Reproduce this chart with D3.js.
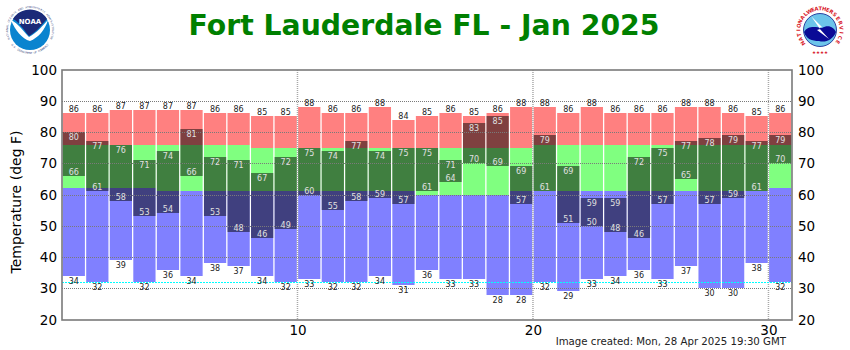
<!DOCTYPE html>
<html>
<head>
<meta charset="utf-8">
<script src="https://cdn.jsdelivr.net/npm/d3@7"></script>
<style>
    html, body { margin: 0; padding: 0; background: #fff; }
    svg { display: block; }
    text { font-family: "DejaVu Sans", sans-serif; }
</style>
</head>
<body>
<div id="chart-area"></div>
<script>
const days = d3.range(1, 32);
const recordHigh = [86, 86, 87, 87, 87, 87, 86, 86, 85, 85, 88, 86, 86, 88, 84, 85, 86, 85, 86, 88, 88, 86, 88, 86, 86, 86, 88, 88, 86, 85, 86];
const recordLow = [34, 32, 39, 32, 36, 34, 38, 37, 34, 32, 33, 32, 32, 34, 31, 36, 33, 33, 28, 28, 32, 29, 33, 34, 36, 33, 37, 30, 30, 38, 32];
const normalHigh = [76, 76, 76, 76, 76, 76, 76, 76, 75, 75, 75, 75, 75, 75, 75, 75, 75, 75, 75, 75, 76, 76, 76, 76, 76, 76, 76, 76, 76, 76, 76];
const normalLow = [62, 62, 62, 62, 61, 61, 61, 61, 61, 61, 61, 61, 61, 61, 61, 60, 60, 60, 60, 61, 61, 61, 61, 61, 61, 61, 61, 61, 61, 61, 62];
const obsHigh = [80, 77, 76, 71, 74, 81, 72, 71, 67, 72, 75, 74, 77, 74, 75, 75, 71, 83, 85, 69, 79, 69, 59, 59, 72, 75, 77, 78, 79, 77, 79];
const obsLow = [66, 61, 58, 53, 54, 66, 53, 48, 46, 49, 60, 55, 58, 59, 57, 61, 64, 70, 69, 57, 61, 51, 50, 48, 46, 57, 65, 57, 59, 61, 70];
const yTicks = [20, 30, 40, 50, 60, 70, 80, 90, 100];
const xTicks = [10, 20, 30];
const freezing = 32;

const width = 850;
const height = 350;
const plot = { left: 62, right: 792, top: 70, bottom: 320 };
const inset = 0.65;

const svg = d3.select("#chart-area")
    .append("svg")
    .attr("width", width)
    .attr("height", height);

const x = d3.scaleLinear().domain([0, 31]).range([plot.left, plot.right]);
const y = d3.scaleLinear()
    .domain([20, 100])
    .range([plot.bottom, plot.top])
    .interpolate((a, b) => (t) => Math.floor(a + (b - a) * t));

// one band per day, from value a down to value b
const band = (cls, color, top, bottom) => {
    svg.append("g")
        .attr("class", cls)
        .selectAll("rect")
        .data(days)
        .enter()
        .append("rect")
        .attr("x", (d) => x(d - 1) + inset)
        .attr("width", (d) => x(d) - x(d - 1) - 2 * inset)
        .attr("y", (d, i) => y(top[i]))
        .attr("height", (d, i) => y(bottom[i]) - y(top[i]))
        .attr("fill", color);
};

band("record-warm", "#ff8080", recordHigh, normalHigh);
band("normal", "#80ff80", normalHigh, normalLow);
band("record-cold", "#8080ff", normalLow, recordLow);

svg.append("g")
    .attr("class", "observed")
    .selectAll("rect")
    .data(days)
    .enter()
    .append("rect")
    .attr("x", (d) => x(d - 1) + inset)
    .attr("width", (d) => x(d) - x(d - 1) - 2 * inset)
    .attr("y", (d, i) => y(obsHigh[i]))
    .attr("height", (d, i) => y(obsLow[i]) - y(obsHigh[i]))
    .attr("fill", "#000")
    .attr("fill-opacity", 0.5);

// grid
svg.append("g")
    .attr("class", "grid-y")
    .selectAll("line")
    .data(yTicks.slice(1, -1))
    .enter()
    .append("line")
    .attr("x1", plot.left)
    .attr("x2", plot.right)
    .attr("y1", (d) => y(d) + 0.5)
    .attr("y2", (d) => y(d) + 0.5)
    .attr("stroke", "#7a7a7a")
    .attr("shape-rendering", "crispEdges")
    .attr("stroke-dasharray", "1,1");

svg.append("g")
    .attr("class", "grid-x")
    .selectAll("line")
    .data(xTicks)
    .enter()
    .append("line")
    .attr("x1", (d) => x(d))
    .attr("x2", (d) => x(d))
    .attr("y1", plot.top)
    .attr("y2", plot.bottom)
    .attr("stroke", "#a8a8a8")
    .attr("stroke-width", 1.5)
    .attr("stroke-dasharray", "1,1");

svg.append("line")
    .attr("x1", plot.left)
    .attr("x2", plot.right)
    .attr("y1", y(freezing) + 0.5)
    .attr("y2", y(freezing) + 0.5)
    .attr("stroke", "#00ffff")
    .attr("shape-rendering", "crispEdges")
    .attr("stroke-dasharray", "2,1");

// frame
svg.append("rect")
    .attr("x", plot.left)
    .attr("y", plot.top)
    .attr("width", plot.right - plot.left)
    .attr("height", plot.bottom - plot.top)
    .attr("fill", "none")
    .attr("stroke", "#7a7a7a")
    .attr("stroke-width", 1.6);

// value labels
const labels = (cls, values, dy, color) => {
    svg.append("g")
        .attr("class", cls)
        .selectAll("text")
        .data(days)
        .enter()
        .append("text")
        .attr("x", (d) => x(d - 0.5))
        .attr("y", (d, i) => y(values[i]) + dy)
        .attr("text-anchor", "middle")
        .attr("font-size", "8px")
        .attr("fill", color)
        .text((d, i) => values[i]);
};

labels("label-record-high", recordHigh, -1, "#222");
labels("label-record-low", recordLow, 8, "#222");
labels("label-obs-high", obsHigh, 8, "#e0e0e0");
labels("label-obs-low", obsLow, -1, "#e0e0e0");

// axes
const styleAxis = (g) => {
    g.select(".domain").remove();
    g.selectAll("line").remove();
    g.selectAll("text")
        .attr("font-family", "DejaVu Sans")
        .attr("font-size", "13.5px")
        .attr("fill", "#000");
};

svg.append("g")
    .attr("transform", "translate(" + plot.left + ", 0)")
    .call(d3.axisLeft(y).tickValues(yTicks).tickSize(0).tickPadding(5))
    .call(styleAxis);

svg.append("g")
    .attr("transform", "translate(" + plot.right + ", 0)")
    .call(d3.axisRight(y).tickValues(yTicks).tickSize(0).tickPadding(6))
    .call(styleAxis);

svg.append("g")
    .attr("transform", "translate(0, " + plot.bottom + ")")
    .call(d3.axisBottom(x).tickValues(xTicks).tickSize(0).tickPadding(5))
    .call(styleAxis);

svg.append("text")
    .attr("x", -202)
    .attr("y", 21)
    .attr("transform", "rotate(-90)")
    .attr("text-anchor", "middle")
    .attr("font-size", "14px")
    .text("Temperature (deg F)");

svg.append("text")
    .attr("x", 424)
    .attr("y", 35)
    .attr("text-anchor", "middle")
    .attr("font-size", "28.3px")
    .attr("font-weight", "bold")
    .attr("fill", "#008000")
    .text("Fort Lauderdale FL - Jan 2025");

svg.append("text")
    .attr("x", 786)
    .attr("y", 345)
    .attr("text-anchor", "end")
    .attr("font-size", "10.2px")
    .attr("fill", "#222")
    .text("Image created: Mon, 28 Apr 2025 19:30 GMT");

// lettering round a logo, one letter at a time. angles in degrees, 0 is up
const ringText = (g, str, r, from, to, size, color, weight) => {
    const step = (to - from) / (str.length - 1);
    const flip = to < from;
    str.split("").forEach((c, i) => {
        const a = from + i * step;
        g.append("text")
            .attr("transform", "rotate(" + a + ") translate(0, " + (-r) + ")" + (flip ? " rotate(180)" : ""))
            .attr("text-anchor", "middle")
            .attr("dy", "0.35em")
            .attr("font-size", size + "px")
            .attr("font-weight", weight)
            .attr("fill", color)
            .text(c);
    });
};

// NOAA logo
const noaa = svg.append("g").attr("transform", "translate(30, 30)");
noaa.append("circle").attr("r", 25).attr("fill", "#fff");
noaa.append("circle").attr("r", 20).attr("fill", "#0a84cf");
noaa.append("path")
    .attr("d", "M-17,-11 A20,20 0 0 1 17,-11 C12,-6 7,2 -1,6 C-6,0 -11,-8 -17,-11 Z")
    .attr("fill", "#1b2a78");
noaa.append("path")
    .attr("d", "M-19,-10 C-12,-7 -6,2 -1,7 C7,3 13,-5 18,-10 C15,0 8,8 0,11 C-8,9 -15,0 -19,-10 Z")
    .attr("fill", "#fff");
noaa.append("text")
    .attr("y", -6)
    .attr("text-anchor", "middle")
    .attr("font-size", "7px")
    .attr("font-weight", "bold")
    .attr("fill", "#fff")
    .text("NOAA");
ringText(noaa, "NATIONAL OCEANIC AND ATMOSPHERIC ADMINISTRATION", 23, -112, 112, 2.6, "#3a4a80", "normal");
ringText(noaa, "U.S. DEPARTMENT OF COMMERCE", 23, 230, 130, 2.6, "#3a4a80", "normal");

// NWS logo
const nws = svg.append("g").attr("transform", "translate(820, 30)");
nws.append("circle").attr("r", 16.5).attr("fill", "#6cc4ea").attr("stroke", "#0a1a8c").attr("stroke-width", 0.8);
nws.append("path")
    .attr("d", "M-16,2 C-12,-5 -4,-3 2,-2 C8,-6 14,-3 16,2 C13,10 5,13 -1,11 C-8,11 -14,9 -16,2 Z")
    .attr("fill", "#0a0a96");
nws.append("path")
    .attr("d", "M-9,-14 L2,-3 L-1,-2 L9,9 L-3,0 L0,-1 Z")
    .attr("fill", "#fff");
ringText(nws, "NATIONAL", 21.5, -128, -42, 5.2, "#d8202a", "bold");
ringText(nws, "WEATHER", 21.5, -30, 32, 5.2, "#d8202a", "bold");
ringText(nws, "SERVICE", 21.5, 44, 124, 5.2, "#d8202a", "bold");
nws.append("text")
    .attr("y", 24)
    .attr("text-anchor", "middle")
    .attr("font-size", "4.5px")
    .attr("fill", "#d8202a")
    .text("★★★★");
</script>
</body>
</html>
